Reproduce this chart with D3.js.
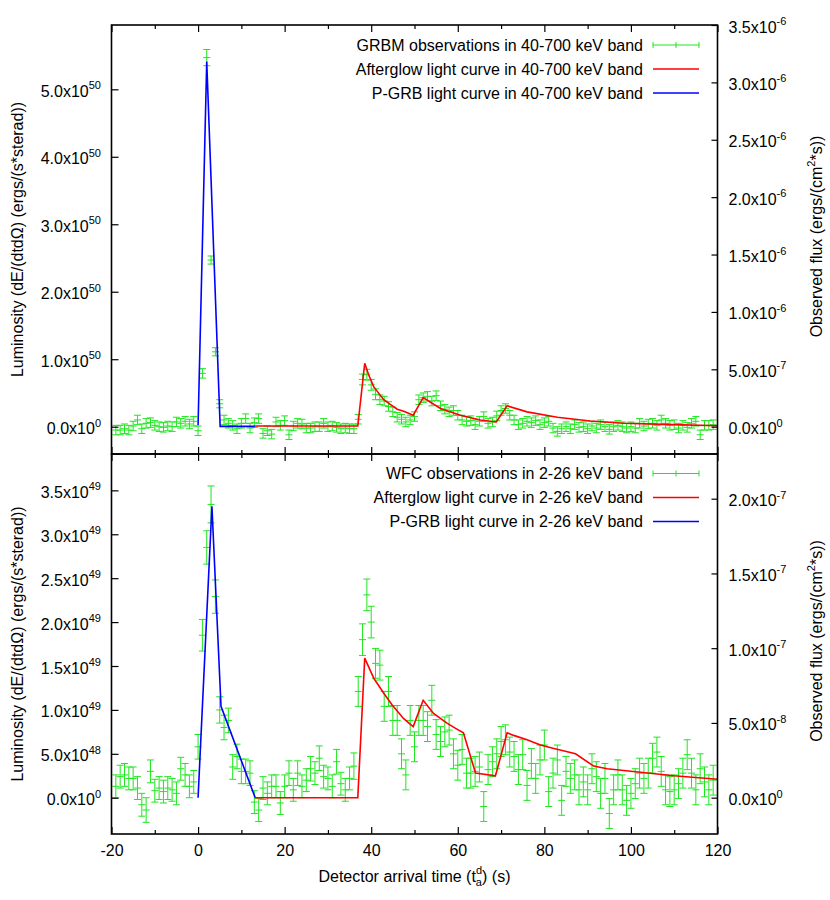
<!DOCTYPE html>
<html><head><meta charset="utf-8">
<script src="https://cdn.jsdelivr.net/npm/d3@7"></script>
<style>body{margin:0;background:#fff} text{font-family:"Liberation Sans",Arial,Helvetica,sans-serif;fill:#000}</style>
</head><body><svg id="c" width="830" height="900"></svg>
<script>
// ---------- DATA ----------
const obsTimes = [-19,-18,-17,-16,-15,-14,-13,-12,-11,-10,-9,-8,-7,-6,-5,-4,-3,-2,-1,
 0,1,2,3,4,5,6,7,8,9,10,11,12,13,14,15,16,17,18,19,20,21,22,23,24,25,26,27,28,29,
 30,31,32,33,34,35,36,37,38,39,40,41,42,43,44,45,46,47,48,49,50,51,52,53,54,55,56,57,58,59,
 60,61,62,63,64,65,66,67,68,69,70,71,72,73,74,75,76,77,78,79,80,81,82,83,84,85,86,87,88,89,
 90,91,92,93,94,95,96,97,98,99,100,101,102,103,104,105,106,107,108,109,110,111,112,113,114,115,116,117,118,119];

// GRBM 40-700 keV, luminosity in units of 1e50 erg/(s sterad)
const grbmLum = [-0.05,-0.05,-0.03,-0.05,0.01,0.10,-0.03,0.05,0.06,0.02,0.00,-0.01,0.01,0.00,0.07,0.05,0.08,0.04,0.08,
 -0.06,0.79,5.47,2.47,1.11,0.34,0.10,0.05,0.02,-0.03,
 0.05,0.12,-0.02,0.06,0.12,-0.10,-0.06,-0.11,0.07,0.02,
 0.09,-0.12,0.01,0.05,0.04,-0.02,-0.02,0.00,0.00,0.05,
 0.00,0.01,-0.01,-0.03,-0.02,-0.03,-0.03,0.11,0.70,0.77,
 0.62,0.48,0.40,0.38,0.30,0.22,0.14,0.11,0.07,0.10,
 0.15,0.40,0.43,0.45,0.38,0.46,0.31,0.26,0.22,0.24,
 0.17,0.10,0.08,0.09,0.03,0.08,0.15,0.05,0.07,0.16,
 0.24,0.27,0.17,0.10,0.03,0.05,0.08,0.06,0.09,0.03,
 0.06,0.08,-0.02,-0.07,-0.03,0.00,-0.03,0.03,-0.01,0.00,
 -0.03,0.01,-0.02,0.03,0.00,-0.04,0.00,0.02,0.00,-0.02,
 0.00,-0.02,0.05,0.01,0.04,0.05,0.02,0.10,0.05,0.02,
 0.03,-0.02,0.02,-0.01,0.05,0.08,-0.12,0.02,0.02,0.03];
const grbmErr = [0.07,0.07,0.07,0.07,0.07,0.07,0.07,0.07,0.07,0.07,0.07,0.07,0.07,0.07,0.07,0.07,0.07,0.07,0.07,
 0.07,0.07,0.12,0.06,0.06,0.06,0.07,0.07,0.07,0.07,
 0.07,0.07,0.07,0.07,0.07,0.07,0.07,0.07,0.07,0.07,
 0.07,0.07,0.07,0.07,0.07,0.07,0.07,0.07,0.07,0.07,
 0.07,0.07,0.07,0.07,0.07,0.07,0.07,0.07,0.08,0.08,
 0.08,0.08,0.07,0.07,0.07,0.07,0.07,0.07,0.07,0.07,
 0.07,0.07,0.07,0.07,0.07,0.07,0.07,0.07,0.07,0.07,
 0.07,0.07,0.07,0.07,0.07,0.07,0.07,0.07,0.07,0.07,
 0.07,0.07,0.07,0.07,0.07,0.07,0.07,0.07,0.07,0.07,
 0.07,0.07,0.07,0.07,0.07,0.07,0.07,0.07,0.07,0.07,
 0.07,0.07,0.07,0.07,0.07,0.07,0.07,0.07,0.07,0.07,
 0.07,0.07,0.07,0.07,0.07,0.07,0.07,0.07,0.07,0.07,
 0.07,0.07,0.07,0.07,0.07,0.07,0.07,0.07,0.07,0.07];

// WFC 2-26 keV, luminosity in units of 1e49 erg/(s sterad)
const wfcLum = [0.13,0.24,0.26,0.22,0.22,0.11,-0.08,-0.14,0.30,0.08,0.11,0.07,0.11,0.09,0.05,0.33,0.26,0.13,0.18,
 0.58,1.85,2.85,3.34,2.29,1.00,0.80,0.88,0.35,0.47,
 0.30,0.30,0.28,-0.05,-0.14,0.11,0.05,0.13,0.13,-0.06,
 0.13,0.28,0.09,0.28,0.13,0.20,0.33,0.28,0.45,0.24,
 0.22,0.13,0.41,0.16,0.09,0.22,0.36,1.21,1.80,2.31,
 2.00,1.53,1.51,1.04,1.21,0.88,0.88,0.50,0.26,0.88,
 0.58,0.88,0.88,0.81,1.11,0.72,0.64,0.75,0.77,0.50,
 0.37,0.55,0.28,0.28,0.30,0.35,-0.10,0.32,0.41,0.50,
 0.64,0.66,0.52,0.47,0.32,0.49,0.14,0.39,0.22,0.43,
 0.60,0.07,0.28,0.43,-0.03,0.30,0.22,0.26,0.09,0.18,
 0.09,0.33,0.24,0.05,0.22,-0.18,0.09,0.26,0.09,-0.03,
 0.05,0.16,0.28,0.22,0.28,0.45,0.52,0.30,0.09,0.07,
 0.09,0.16,0.28,0.49,0.28,0.09,0.33,0.18,0.09,0.20];
const wfcErr = [0.13,0.13,0.13,0.13,0.13,0.13,0.13,0.14,0.13,0.13,0.13,0.13,0.13,0.13,0.13,0.13,0.13,0.13,0.13,
 0.14,0.18,0.19,0.21,0.19,0.15,0.14,0.14,0.14,0.14,
 0.14,0.14,0.14,0.13,0.13,0.13,0.13,0.13,0.13,0.13,
 0.13,0.14,0.13,0.14,0.13,0.13,0.14,0.13,0.14,0.13,
 0.13,0.13,0.14,0.13,0.13,0.13,0.15,0.17,0.18,0.18,
 0.18,0.17,0.17,0.17,0.17,0.17,0.17,0.17,0.17,0.17,
 0.17,0.17,0.17,0.17,0.17,0.17,0.17,0.17,0.17,0.17,
 0.17,0.17,0.17,0.17,0.17,0.17,0.17,0.17,0.17,0.17,
 0.17,0.17,0.17,0.17,0.17,0.17,0.17,0.17,0.17,0.17,
 0.17,0.17,0.17,0.17,0.17,0.17,0.17,0.17,0.17,0.17,
 0.17,0.17,0.17,0.17,0.17,0.17,0.17,0.17,0.17,0.17,
 0.17,0.17,0.17,0.17,0.17,0.17,0.17,0.17,0.17,0.17,
 0.17,0.17,0.17,0.17,0.17,0.17,0.17,0.17,0.17,0.17];

// Model curves (same units as above)
const topAfterT = [13.2,36.9,38.5,39.4,40.6,41.8,42.9,44.4,46.0,47.5,49.7,52.0,56.0,60.6,65.2,68.9,71.4,76.0,83.0,90.6,98.3,109.9,120];
const topAfterL = [0.01,0.01,0.94,0.77,0.59,0.49,0.40,0.33,0.26,0.23,0.17,0.43,0.27,0.17,0.10,0.07,0.31,0.22,0.14,0.085,0.05,0.03,0.015];
const topPgrbT = [0,2.0,5.1,13.2];
const topPgrbL = [0.02,5.41,0.005,0.005];
const botAfterT = [13.2,36.9,38.5,40.6,42.9,44.8,47.5,49.7,52.0,54.4,57.5,59.5,61.3,64.1,68.7,71.4,72.9,76.0,79.1,82.2,87.2,91.4,94.5,102.2,109.9,120];
const botAfterL = [0,0,1.59,1.36,1.19,1.06,0.90,0.81,1.11,0.96,0.85,0.79,0.74,0.28,0.25,0.74,0.71,0.66,0.60,0.56,0.50,0.36,0.33,0.29,0.25,0.21];
const botPgrbT = [0,3.2,5.3,13.2];
const botPgrbL = [0,3.32,1.04,0];

// Ticks
const xMajorTicks = [-20,0,20,40,60,80,100,120];
const xMinorTicks = [-10,10,30,50,70,90,110];
const topLeftTicks = [0,1,2,3,4,5];
const topLeftLabels = [["0.0","0"],["1.0","50"],["2.0","50"],["3.0","50"],["4.0","50"],["5.0","50"]];
const topRightTicks = [0,0.5,1,1.5,2,2.5,3,3.5];           // units 1e-6
const topRightLabels = [["0.0","0"],["5.0","-7"],["1.0","-6"],["1.5","-6"],["2.0","-6"],["2.5","-6"],["3.0","-6"],["3.5","-6"]];
const botLeftTicks = [0,0.5,1,1.5,2,2.5,3,3.5];            // units 1e49
const botLeftLabels = [["0.0","0"],["5.0","48"],["1.0","49"],["1.5","49"],["2.0","49"],["2.5","49"],["3.0","49"],["3.5","49"]];
const botRightTicks = [0,0.5,1,1.5,2];                      // units 1e-7
const botRightLabels = [["0.0","0"],["5.0","-8"],["1.0","-7"],["1.5","-7"],["2.0","-7"]];

const topLegend = ["GRBM observations in 40-700 keV band","Afterglow light curve in 40-700 keV band","P-GRB light curve in 40-700 keV band"];
const botLegend = ["WFC observations in 2-26 keV band","Afterglow light curve in 2-26 keV band","P-GRB light curve in 2-26 keV band"];

// ---------- DRAW ----------
const svg = d3.select("#c");
const L = 111.5, R = 717.5;
const x = d3.scaleLinear().domain([-20,120]).range([L,R]);
const GREEN = "#1ee61e", RED = "#ff0000", BLUE = "#0000ff";

const panels = [
  {y0:25, y1:454, ld:[-0.4046,5.953], rd:[-0.238,3.5], lt:topLeftTicks, ll:topLeftLabels, rt:topRightTicks, rl:topRightLabels,
   obs:grbmLum, err:grbmErr, aT:topAfterT, aL:topAfterL, pT:topPgrbT, pL:topPgrbL, leg:topLegend, legY:45, xlab:false},
  {y0:454, y1:834, ld:[-0.413,3.914], rd:[-0.243,2.299], lt:botLeftTicks, ll:botLeftLabels, rt:botRightTicks, rl:botRightLabels,
   obs:wfcLum, err:wfcErr, aT:botAfterT, aL:botAfterL, pT:botPgrbT, pL:botPgrbL, leg:botLegend, legY:473.5, xlab:true}
];

function supText(t, mant, exp){
  t.text(null);
  t.append("tspan").text(mant+"x10");
  t.append("tspan").attr("dy",-7.5).attr("font-size",11).text(exp);
}

panels.forEach(p=>{
  const y = d3.scaleLinear().domain(p.ld).range([p.y1,p.y0]);
  const y2 = d3.scaleLinear().domain(p.rd).range([p.y1,p.y0]);
  const g = svg.append("g");

  // observations with error bars
  const obsG = g.append("g").attr("stroke",GREEN).attr("stroke-width",1).attr("fill","none");
  obsTimes.forEach((t,i)=>{
    const cx = x(t), yt = y(p.obs[i]+p.err[i]), yb = y(p.obs[i]-p.err[i]), yc = y(p.obs[i]);
    obsG.append("path").attr("d",
      `M${cx},${yt}V${yb}M${cx-3.5},${yt}H${cx+3.5}M${cx-3.5},${yb}H${cx+3.5}M${cx-3.5},${yc}H${cx+3.5}`);
  });

  const line = (T,V)=>d3.line().x((d,i)=>x(T[i])).y((d,i)=>y(V[i]))(V);
  g.append("path").attr("d",line(p.aT,p.aL)).attr("fill","none").attr("stroke",RED).attr("stroke-width",1.6);
  g.append("path").attr("d",line(p.pT,p.pL)).attr("fill","none").attr("stroke",BLUE).attr("stroke-width",1.6);

  // axes
  const fontAttr = s=>s.attr("font-size",16).attr("font-family","Liberation Sans, Arial, sans-serif");
  const ax = g.append("g").attr("transform",`translate(0,${p.y1})`)
     .call(d3.axisBottom(x).tickValues(xMajorTicks).tickSizeInner(-7).tickSizeOuter(0).tickPadding(11)
       .tickFormat(p.xlab ? (d=>String(d)) : ""));
  ax.select(".domain").remove();
  ax.selectAll("text").call(fontAttr).attr("fill","#000");
  const axm = g.append("g").attr("transform",`translate(0,${p.y1})`)
     .call(d3.axisBottom(x).tickValues(xMinorTicks).tickSizeInner(-4).tickSizeOuter(0).tickFormat(""));
  axm.select(".domain").remove();
  const axt = g.append("g").attr("transform",`translate(0,${p.y0})`)
     .call(d3.axisTop(x).tickValues(xMajorTicks).tickSizeInner(-7).tickSizeOuter(0).tickFormat(""));
  axt.select(".domain").remove();
  const axtm = g.append("g").attr("transform",`translate(0,${p.y0})`)
     .call(d3.axisTop(x).tickValues(xMinorTicks).tickSizeInner(-4).tickSizeOuter(0).tickFormat(""));
  axtm.select(".domain").remove();

  const ay = g.append("g").attr("transform",`translate(${L},0)`)
     .call(d3.axisLeft(y).tickValues(p.lt).tickSizeInner(-7).tickSizeOuter(0).tickPadding(10.5));
  ay.select(".domain").remove();
  ay.selectAll("text").call(fontAttr).attr("dy","0.44em").each(function(d,i){ supText(d3.select(this), p.ll[i][0], p.ll[i][1]); });

  const ay2 = g.append("g").attr("transform",`translate(${R},0)`)
     .call(d3.axisRight(y2).tickValues(p.rt).tickSizeInner(-6).tickSizeOuter(0).tickPadding(11));
  ay2.select(".domain").remove();
  ay2.selectAll("text").call(fontAttr).attr("dy","0.44em").each(function(d,i){ supText(d3.select(this), p.rl[i][0], p.rl[i][1]); });

  g.selectAll(".tick line").attr("stroke","#000").attr("stroke-width",1.2);

  // border
  g.append("rect").attr("x",L).attr("y",p.y0).attr("width",R-L).attr("height",p.y1-p.y0)
    .attr("fill","none").attr("stroke","#000").attr("stroke-width",1.6);

  // legend
  const lg = g.append("g");
  p.leg.forEach((s,i)=>{
    const ly = p.legY + i*24;
    lg.append("text").attr("x",643).attr("y",ly+5.5).attr("text-anchor","end").attr("font-size",16).text(s);
    if(i===0){
      lg.append("path").attr("d",`M653,${ly}H699M653,${ly-3}V${ly+3}M699,${ly-3}V${ly+3}M676,${ly-3}V${ly+3}`)
        .attr("stroke",GREEN).attr("stroke-width",1).attr("fill","none");
    } else {
      lg.append("line").attr("x1",653).attr("x2",699).attr("y1",ly).attr("y2",ly)
        .attr("stroke", i===1?RED:BLUE).attr("stroke-width",1.6);
    }
  });

  // axis titles
  const cy = (p.y0+p.y1)/2;
  g.append("text").attr("transform",`translate(23,${cy}) rotate(-90)`).attr("text-anchor","middle")
    .attr("font-size",16).text("Luminosity (dE/(dtdΩ) (ergs/(s*sterad))");
  const rt = g.append("text").attr("transform",`translate(822,${cy-3}) rotate(-90)`).attr("text-anchor","middle")
    .attr("font-size",16);
  rt.append("tspan").text("Observed flux (ergs/(cm");
  rt.append("tspan").attr("dy",-7).attr("font-size",11).text("2");
  rt.append("tspan").attr("dy",7).text("*s))");
});

// x title
const xt = svg.append("text").attr("x",(L+R)/2).attr("y",882).attr("text-anchor","middle").attr("font-size",16);
xt.append("tspan").text("Detector arrival time (t");
xt.append("tspan").attr("dy",4).attr("font-size",11).text("a");
xt.append("tspan").attr("dy",-12).attr("dx",-6).attr("font-size",11).text("d");
xt.append("tspan").attr("dy",8).text(") (s)");
</script></body></html>
